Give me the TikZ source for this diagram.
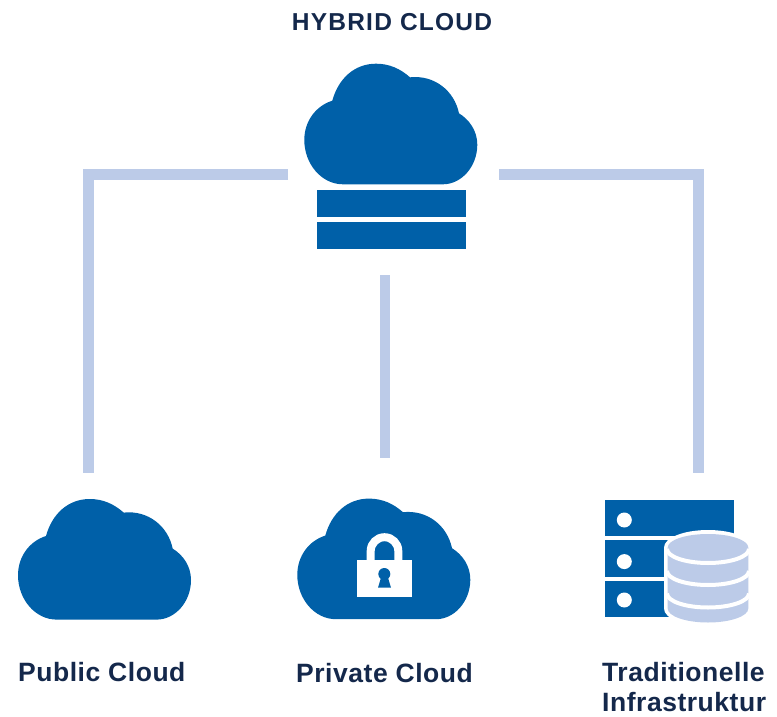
\documentclass[tikz,border=0pt]{standalone}
\usepackage{fontspec}
\setmainfont{Liberation Sans}[LetterSpace=2]
\newfontfamily\titlefont{Liberation Sans}[LetterSpace=5]
\definecolor{iconblue}{HTML}{0060A8}
\definecolor{linkblue}{HTML}{BCCBE8}
\definecolor{labelnavy}{HTML}{14284B}
\tikzset{
  link/.style={draw=linkblue,line width=10.7pt,line cap=butt,line join=miter},
  lbl/.style={text=labelnavy,font=\bfseries\fontsize{26.5}{30}\selectfont,inner sep=0pt,align=left,anchor=west},
  cloud/.pic={
    \fill[iconblue] (38.7,120.6) .. controls (17,120.6) and (0,100) .. (0,76.3)
      .. controls (0,57) and (12,42) .. (28,37)
      .. controls (34,15) and (50,0) .. (71.7,0)
      .. controls (85,0) and (96,5) .. (105.7,13.6)
      .. controls (130,11) and (150,27) .. (154.7,49.6)
      .. controls (165,56) and (173,67) .. (173,81)
      .. controls (173,103) and (157,120.6) .. (138.7,120.6) -- cycle;
  }
}
\begin{document}
\begin{tikzpicture}[x=1pt,y=-1pt]
\useasboundingbox (0,0) rectangle (777,717);
% connector ends
\coordinate (hl) at (288,174.5);
\coordinate (pub) at (88.7,473);
\coordinate (hr) at (499,174.5);
\coordinate (tra) at (698.5,473);
\coordinate (hc) at (385,275);
\coordinate (pri) at (385,458);
\draw[link] (hl) -| (pub);
\draw[link] (hr) -| (tra);
\draw[link] (hc) -- (pri);
% hybrid icon
\pic at (304.3,63.7) {cloud};
\fill[iconblue] (317,190) rectangle (466,216.5);
\fill[iconblue] (317,221.5) rectangle (466,248.5);
% public
\pic at (18,499) {cloud};
% private
\pic at (297.3,498.6) {cloud};
\fill[white] (357,560) rectangle (412.3,596.7);
\draw[white,line width=8pt] (370.7,562) -- (370.7,551) arc[start angle=180,end angle=360,radius=13.8] -- (398.3,562);
\fill[iconblue] (384.3,574) circle[radius=6];
\fill[iconblue] (381.5,576) -- (378,587.7) -- (391,587.7) -- (387.5,576) -- cycle;
% server
\fill[iconblue] (605,500) rectangle (734,536);
\fill[iconblue] (605,539.5) rectangle (734,577.3);
\fill[iconblue] (605,580.7) rectangle (734,617.3);
\foreach \yy in {520,561.6,600}{\fill[white] (624.3,\yy) circle[radius=7.5];}
% database
\fill[white]
  (664,547.5) -- (664,608.5) arc[x radius=44,y radius=18,start angle=180,end angle=0] -- (752,547.5) arc[x radius=44,y radius=17.5,start angle=0,end angle=-180] -- cycle;
\fill[linkblue]
  (667.7,547.5) -- (667.7,608.5) arc[x radius=40.3,y radius=14,start angle=180,end angle=0] -- (748.3,547.5) arc[x radius=40.3,y radius=13.5,start angle=0,end angle=-180] -- cycle;
\draw[white,line width=4pt] (667,549) arc[x radius=41,y radius=14,start angle=180,end angle=0];
\draw[white,line width=4pt] (667,571) arc[x radius=41,y radius=14,start angle=180,end angle=0];
\draw[white,line width=4pt] (667,593.5) arc[x radius=41,y radius=14,start angle=180,end angle=0];
% labels
\node[lbl,anchor=center,font=\titlefont\bfseries\fontsize{24.5}{29}\selectfont] (hybrid) at (392,22) {HYBRID CLOUD};
\node[lbl] (publabel) at (18,672) {Public Cloud};
\node[lbl] (prilabel) at (296,673) {Private Cloud};
\node[lbl,anchor=south west,text depth=0pt] (tralabel) at (602,711.3) {Traditionelle\\Infrastruktur};
\end{tikzpicture}
\end{document}
